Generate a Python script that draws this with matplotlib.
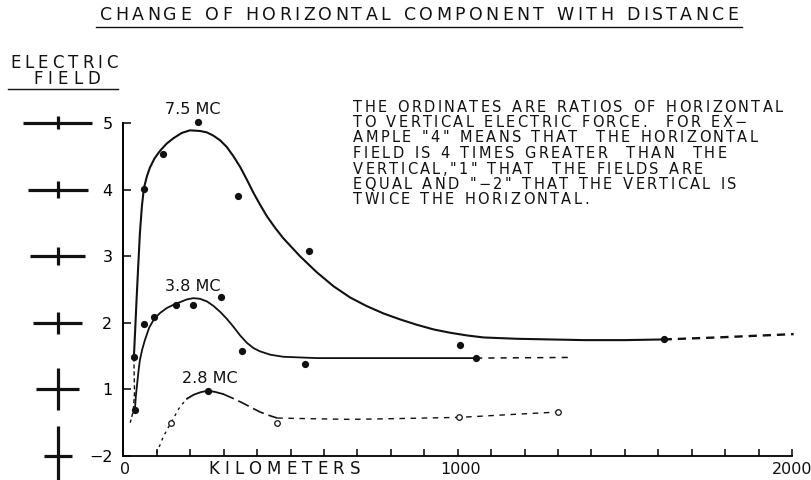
import matplotlib
matplotlib.use("Agg")
import matplotlib.pyplot as plt
from matplotlib.font_manager import FontProperties
from matplotlib.textpath import TextToPath

FONT = "DejaVu Sans"
PX = 100 / 72  # points -> pixels at dpi 100

# ordinate scale: 5,4,3,2,1 then "-2" one step below 1
y_pos = [0, 1, 2, 3, 4, 5]
y_labels = ["\u22122", "1", "2", "3", "4", "5"]

# 7.5 MC
x75 = [31, 35, 39, 44, 49, 55, 61, 70, 79, 93, 109, 129, 149, 174, 199, 229,
       249, 269, 289, 309, 329, 349, 369, 389, 409, 429, 453, 478, 528, 578,
       628, 678, 728, 778, 828, 878, 928, 978, 1028, 1077, 1177, 1277, 1377,
       1500, 1616]
y75 = [1.48, 1.90, 2.34, 2.85, 3.34, 3.75, 4.02, 4.20, 4.33, 4.47, 4.58, 4.69,
       4.77, 4.85, 4.89, 4.88, 4.86, 4.81, 4.74, 4.64, 4.50, 4.34, 4.15, 3.95,
       3.77, 3.60, 3.43, 3.27, 3.00, 2.76, 2.55, 2.38, 2.25, 2.14, 2.05, 1.97,
       1.90, 1.85, 1.81, 1.78, 1.76, 1.75, 1.74, 1.74, 1.75]
x75_ext = [1616, 1776, 2005]
y75_ext = [1.75, 1.78, 1.83]
x75_low = [31, 33, 29, 20]
y75_low = [1.48, 0.95, 0.67, 0.50]
x75_pts = [31, 61, 117, 224, 342, 555, 1007, 1616]
y75_pts = [1.48, 4.01, 4.53, 5.01, 3.90, 3.08, 1.67, 1.75]

# 3.8 MC
x38 = [34, 37, 41, 45, 49, 56, 64, 77, 92, 110, 129, 149, 169, 189, 209, 229,
       250, 270, 290, 309, 329, 349, 369, 389, 409, 440, 478, 528, 578, 678,
       828, 1055]
y38 = [0.69, 0.90, 1.09, 1.28, 1.44, 1.60, 1.74, 1.93, 2.06, 2.15, 2.22, 2.27,
       2.31, 2.35, 2.37, 2.36, 2.32, 2.25, 2.16, 2.06, 1.94, 1.81, 1.70, 1.62,
       1.57, 1.52, 1.49, 1.48, 1.47, 1.47, 1.47, 1.47]
x38_ext = [1055, 1337]
y38_ext = [1.47, 1.48]
x38_pts = [34, 62, 92, 157, 209, 292, 356, 543, 1055]
y38_pts = [0.69, 1.98, 2.08, 2.27, 2.26, 2.38, 1.58, 1.38, 1.47]

# 2.8 MC
x28_a = [99, 119, 142, 169, 190]
y28_a = [0.04, 0.29, 0.50, 0.74, 0.86]
x28_b = [190, 210, 232, 254, 276, 298]
y28_b = [0.86, 0.92, 0.96, 0.98, 0.96, 0.93]
x28_c = [298, 330, 359, 385, 409, 435, 460]
y28_c = [0.93, 0.86, 0.79, 0.72, 0.66, 0.61, 0.57]
x28_d = [460, 560, 678, 800, 1005, 1150, 1299]
y28_d = [0.57, 0.56, 0.55, 0.56, 0.58, 0.62, 0.66]
x28_open = [142, 460, 1005, 1299]
y28_open = [0.50, 0.49, 0.58, 0.66]
x28_peak = [254]
y28_peak = [0.98]

# field crosses beside the ordinate: horizontal / vertical arm lengths
cross_h = [28, 43, 49, 55, 60, 69]
cross_v = [60, 42, 22, 18, 17, 13]

note = [
    "THE ORDINATES ARE RATIOS OF HORIZONTAL",
    "TO VERTICAL ELECTRIC FORCE.  FOR EX\u2212",
    "AMPLE \"4\" MEANS THAT  THE HORIZONTAL",
    "FIELD IS 4 TIMES GREATER  THAN  THE",
    "VERTICAL,\"1\" THAT  THE FIELDS ARE",
    "EQUAL AND \"\u22122\" THAT THE VERTICAL IS",
    "TWICE THE HORIZONTAL.",
]

W, H = 812, 480
fig = plt.figure(figsize=(W / 100, H / 100), dpi=100)
fig.patch.set_facecolor("white")

# main axes: x 0..2000 km, y position 0..5
x_left, x_right, y_top, y_bot = 123.5, 792, 123, 456
ax = fig.add_axes([x_left / W, 1 - y_bot / H, (x_right - x_left) / W, (y_bot - y_top) / H])
ax.set_xlim(0, 2000)
ax.set_ylim(0, 5)
for s in ["top", "right"]:
    ax.spines[s].set_visible(False)
ax.spines["left"].set_linewidth(1.4)
ax.spines["bottom"].set_linewidth(1.3)
ax.set_xticks(range(0, 2001, 100))
ax.set_xticklabels([])
ax.tick_params(axis="x", direction="in", length=5, width=1.1, color="black")
ax.set_yticks(y_pos)
ax.set_yticklabels(y_labels, fontsize=11.5, family=FONT)
ax.tick_params(axis="y", direction="in", length=6, width=1.1, pad=8, color="black")
ax.patch.set_alpha(0)

ink = "#111111"
ax.plot(x75, y75, color=ink, lw=1.5, clip_on=False)
ax.plot(x75_ext, y75_ext, color=ink, lw=1.7, ls=(0, (3.5, 2.5)), clip_on=False)
ax.plot(x75_low, y75_low, color=ink, lw=1.0, ls=(0, (3, 2)), clip_on=False)
ax.plot(x75_pts, y75_pts, "o", color=ink, ms=4.2, clip_on=False)

ax.plot(x38, y38, color=ink, lw=1.3, clip_on=False)
ax.plot(x38_ext, y38_ext, color=ink, lw=1.1, ls=(0, (4, 4)), clip_on=False)
ax.plot(x38_pts, y38_pts, "o", color=ink, ms=4.2, clip_on=False)

ax.plot(x28_a, y28_a, color=ink, lw=1.0, ls=(0, (2, 3)), clip_on=False)
ax.plot(x28_b, y28_b, color=ink, lw=1.3, clip_on=False)
ax.plot(x28_c, y28_c, color=ink, lw=1.2, ls=(0, (7, 3)), clip_on=False)
ax.plot(x28_d, y28_d, color=ink, lw=1.0, ls=(0, (4, 4)), clip_on=False)
ax.plot(x28_open, y28_open, "o", mfc="white", mec=ink, mew=0.9, ms=4, clip_on=False)
ax.plot(x28_peak, y28_peak, "o", color=ink, ms=4.2, clip_on=False)

lab = dict(fontsize=11.5, family=FONT, ha="center", va="center", color=ink)
ax.text(208, 5.2, "7.5 MC", **lab)
ax.text(208, 2.54, "3.8 MC", **lab)
ax.text(259, 1.16, "2.8 MC", **lab)

# overlay in pixel coordinates for lettering and crosses
over = fig.add_axes([0, 0, 1, 1])
over.set_xlim(0, W)
over.set_ylim(H, 0)
over.axis("off")
over.patch.set_alpha(0)

ttp = TextToPath()


def tracked(x0, y, s, size, track=None, x1=None):
    prop = FontProperties(family=FONT, size=size)
    widths = []
    for ch in s:
        if ch == " ":
            widths.append(size * 0.4 * PX)
        else:
            w, _, _ = ttp.get_text_width_height_descent(ch, prop, ismath=False)
            widths.append(w * PX)
    if x1 is not None:
        track = (x1 - x0 - sum(widths)) / (len(s) - 1)
    x = x0
    for ch, w in zip(s, widths):
        if ch != " ":
            over.text(x, y, ch, fontproperties=prop, ha="left", va="center", color=ink)
        x += w + track
    return track


tracked(100, 15, "CHANGE OF HORIZONTAL COMPONENT WITH DISTANCE", 12.5, x1=738)
over.plot([96, 742], [27, 27], color=ink, lw=1.0)

tracked(10, 63, "ELECTRIC", 12, x1=118)
tracked(33, 79, "FIELD", 12, x1=100)
over.plot([8, 118], [89, 89], color=ink, lw=1.0)

tr = None
for i, line in enumerate(note):
    if i == 0:
        tr = tracked(353, 107 + 15.5 * i, line, 10.5, x1=783)
    else:
        tracked(353, 107 + 15.5 * i, line, 10.5, track=tr)

# x-axis lettering
ybase = 469
tracked(208, ybase, "KILOMETERS", 12, x1=360)
over.text(125, ybase, "0", fontsize=11.5, family=FONT, ha="center", va="center", color=ink)
over.text(461, ybase, "1000", fontsize=11.5, family=FONT, ha="center", va="center", color=ink)
over.text(792, ybase, "2000", fontsize=11.5, family=FONT, ha="center", va="center", color=ink)

# crosses at each ordinate tick
fig.canvas.draw()
for p, hl, vl in zip(y_pos, cross_h, cross_v):
    yp = H - ax.transData.transform((0, p))[1]
    over.plot([58 - hl / 2, 58 + hl / 2], [yp, yp], color=ink, lw=2.3, solid_capstyle="butt")
    over.plot([58, 58], [yp - vl / 2, yp + vl / 2], color=ink, lw=2.3, solid_capstyle="butt")

fig.savefig("out.png", dpi=100, facecolor="white")
